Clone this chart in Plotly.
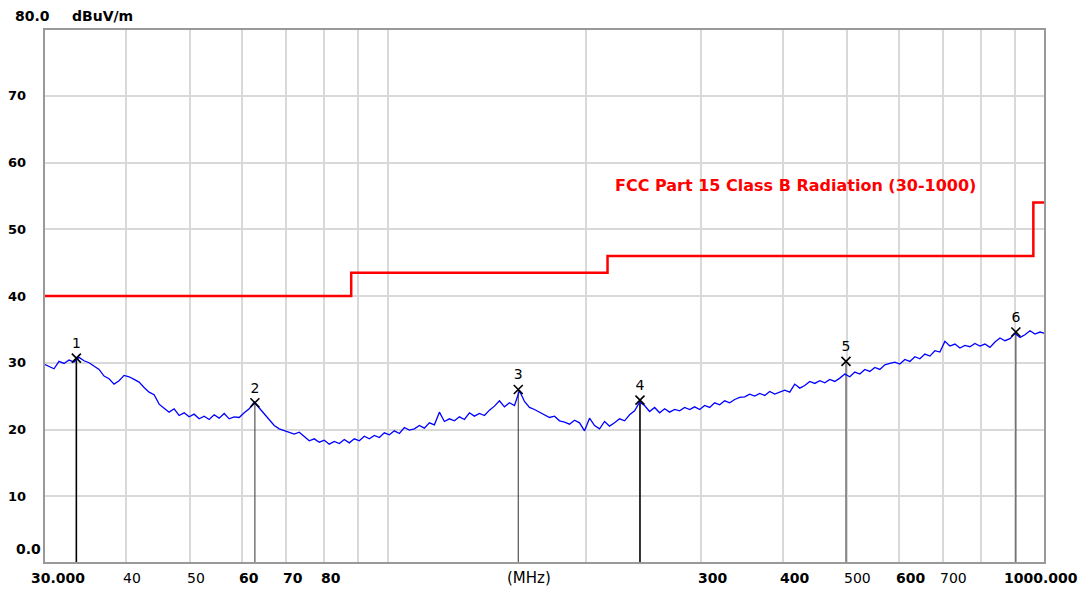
import numpy as np
import plotly.graph_objects as go

# ---------------- data ----------------
# measured trace (dBuV/m), sweep points log-spaced 30 MHz .. 1000 MHz
trace_level = [
    29.8, 29.4, 29.1, 30.2, 29.9, 30.4, 30.1, 30.8, 30.3, 30.0,
    29.5, 29.0, 28.0, 27.6, 26.8, 27.3, 28.1, 27.9, 27.5, 27.1,
    26.3, 25.6, 25.2, 23.8, 23.2, 22.6, 23.1, 22.1, 22.5, 21.9,
    22.3, 21.6, 22.0, 21.5, 22.2, 21.7, 22.4, 21.6, 21.9, 21.8,
    22.5, 23.1, 24.1, 23.2, 22.4, 21.5, 20.6, 20.1, 19.8, 19.5,
    19.3, 19.6, 18.9, 18.3, 18.6, 18.1, 18.4, 17.8, 18.2, 17.9,
    18.5, 18.0, 18.6, 18.3, 19.0, 18.6, 19.1, 18.8, 19.5, 19.2,
    19.8, 19.4, 20.3, 19.9, 20.1, 20.6, 20.2, 21.0, 20.7, 22.6,
    21.2, 21.6, 21.3, 21.9, 21.5, 22.5, 22.0, 22.4, 22.1, 22.9,
    23.5, 24.3, 23.4, 24.0, 23.6, 25.8, 24.2, 23.3, 23.0, 22.6,
    22.3, 21.8, 22.0, 21.3, 21.1, 20.8, 21.4, 21.0, 19.8, 21.7,
    20.6, 20.1, 21.2, 20.5, 21.0, 21.6, 21.3, 22.2, 22.8, 24.1,
    23.6, 22.7, 23.3, 22.5, 23.1, 22.6, 23.0, 22.8, 23.3, 23.0,
    23.4, 23.0, 23.6, 23.3, 24.0, 23.7, 24.3, 24.0, 24.5, 24.8,
    24.9, 25.3, 25.0, 25.4, 25.1, 25.7, 25.3, 25.6, 25.9, 25.6,
    26.8, 26.2, 26.6, 27.2, 26.9, 27.3, 27.0, 27.5, 27.2, 27.7,
    28.3, 27.9, 28.6, 28.3, 29.0, 28.7, 29.3, 29.0, 29.7, 29.9,
    30.1, 29.8, 30.5, 30.2, 30.9, 30.6, 31.3, 31.0, 31.8, 31.6,
    33.2, 32.5, 32.8, 32.2, 32.6, 32.4, 32.9, 32.5, 32.8, 32.3,
    33.1, 33.7, 33.3, 33.6, 34.4, 33.8, 34.2, 34.8, 34.3, 34.6,
    34.4,
]
trace_freq = np.geomspace(30.0, 1000.0, len(trace_level))

# FCC Part 15 Class B limit (step line)
limit_freq = [30, 88, 88, 216, 216, 960, 960, 1000]
limit_level = [40, 40, 43.5, 43.5, 46, 46, 54, 54]
limit_label = "FCC Part 15 Class B Radiation (30-1000)"

# markers
marker_id = ["1", "2", "3", "4", "5", "6"]
marker_freq = [33.6, 62.8, 158.0, 242.0, 498.0, 903.0]
marker_level = [30.7, 24.0, 26.0, 24.4, 30.2, 34.6]

# axis labels
y_ticks = [70, 60, 50, 40, 30, 20, 10]
x_grid = [40, 50, 60, 70, 80, 90, 100, 200, 300, 400, 500, 600, 700, 800, 900]
x_label_vals = [30, 40, 50, 60, 70, 80, 300, 400, 500, 600, 700, 1000]
x_label_text = ["30.000", "40", "50", "60", "70", "80", "300", "400", "500", "600", "700", "1000.000"]
x_label_bold = [True, False, False, True, True, True, True, True, False, True, False, True]

# ---------------- figure ----------------
FONT = "DejaVu Sans"
FS = 14
# page body has an 8px margin, so the figure is offset; margins compensate
OFF = 8
ML, MR, MT, MB = 44 - OFF, 41 + OFF, 29 - OFF, 29 + OFF
W, H = 1086, 592
PW = W - ML - MR
PH = H - MT - MB

fig = go.Figure()

# marker drop lines
for i, (f, v) in enumerate(zip(marker_freq, marker_level)):
    dark = i in (0, 3)
    fig.add_trace(go.Scatter(
        x=[f, f], y=[0, v], mode="lines",
        line=dict(color="#000000" if dark else "#444444", width=1.6 if dark else 1.1),
        hoverinfo="skip", showlegend=False))

fig.add_trace(go.Scatter(
    x=limit_freq, y=limit_level, mode="lines",
    line=dict(color="#ff0000", width=2.5), showlegend=False))

fig.add_trace(go.Scatter(
    x=trace_freq, y=trace_level, mode="lines",
    line=dict(color="#0000ff", width=1.3), showlegend=False))

fig.add_trace(go.Scatter(
    x=marker_freq, y=marker_level, mode="markers+text",
    marker=dict(symbol="x-thin", size=9, line=dict(color="#000000", width=1.6)),
    text=marker_id, textposition="top center",
    textfont=dict(family=FONT, size=14, color="#000000"),
    showlegend=False))


def px_x(p):
    return (p - 44) / PW


def px_y(p):
    return 1 - (p - 29) / PH


ann = []
ann.append(dict(x=px_x(13), y=px_y(16), xref="paper", yref="paper", xanchor="left", yanchor="middle",
                showarrow=False, text="<b>80.0</b>",
                font=dict(family=FONT, size=FS, color="#000")))
ann.append(dict(x=px_x(70), y=px_y(16), xref="paper", yref="paper", xanchor="left", yanchor="middle",
                showarrow=False, text="<b>dBuV/m</b>",
                font=dict(family=FONT, size=FS, color="#000")))
for v in y_ticks:
    ann.append(dict(x=px_x(28), y=v / 80.0, xref="paper", yref="paper", xanchor="right", yanchor="middle",
                    showarrow=False, text="<b>%d</b>" % v,
                    font=dict(family=FONT, size=13, color="#000")))
ann.append(dict(x=px_x(43), y=px_y(549), xref="paper", yref="paper", xanchor="right", yanchor="middle",
                showarrow=False, text="<b>0.0</b>",
                font=dict(family=FONT, size=FS, color="#000")))
for v, t, b in zip(x_label_vals, x_label_text, x_label_bold):
    shift = -5
    if v == 30:
        shift = -15
    if v == 1000:
        shift = -43
    ann.append(dict(x=np.log10(v), y=px_y(578), xref="x", yref="paper", xanchor="left", yanchor="middle",
                    xshift=shift, showarrow=False,
                    text=("<b>%s</b>" % t) if b else t,
                    font=dict(family=FONT, size=FS, color="#000")))
ann.append(dict(x=px_x(505), y=px_y(578), xref="paper", yref="paper", xanchor="left", yanchor="middle",
                showarrow=False, text="(MHz)",
                font=dict(family=FONT, size=15, color="#000")))
ann.append(dict(x=px_x(613), y=px_y(186), xref="paper", yref="paper", xanchor="left", yanchor="middle",
                showarrow=False, text="<b>%s</b>" % limit_label,
                font=dict(family=FONT, size=16, color="#ff0000")))

fig.update_layout(
    width=W, height=H,
    margin=dict(l=ML, r=MR, t=MT, b=MB),
    paper_bgcolor="white", plot_bgcolor="white",
    annotations=ann,
    shapes=[dict(type="rect", xref="paper", yref="paper", x0=0, y0=0, x1=1, y1=1,
                 line=dict(color="#999999", width=2), layer="above")],
)
fig.update_xaxes(type="log", range=[np.log10(30), np.log10(1000)],
                 tickvals=x_grid, showticklabels=False, ticks="",
                 showgrid=True, gridcolor="#d9d9d9", gridwidth=1.5,
                 zeroline=False, showline=False)
fig.update_yaxes(range=[0, 80], dtick=10, showticklabels=False, ticks="",
                 showgrid=True, gridcolor="#d9d9d9", gridwidth=1.5,
                 zeroline=False, showline=False)

fig.write_html("out.html")
